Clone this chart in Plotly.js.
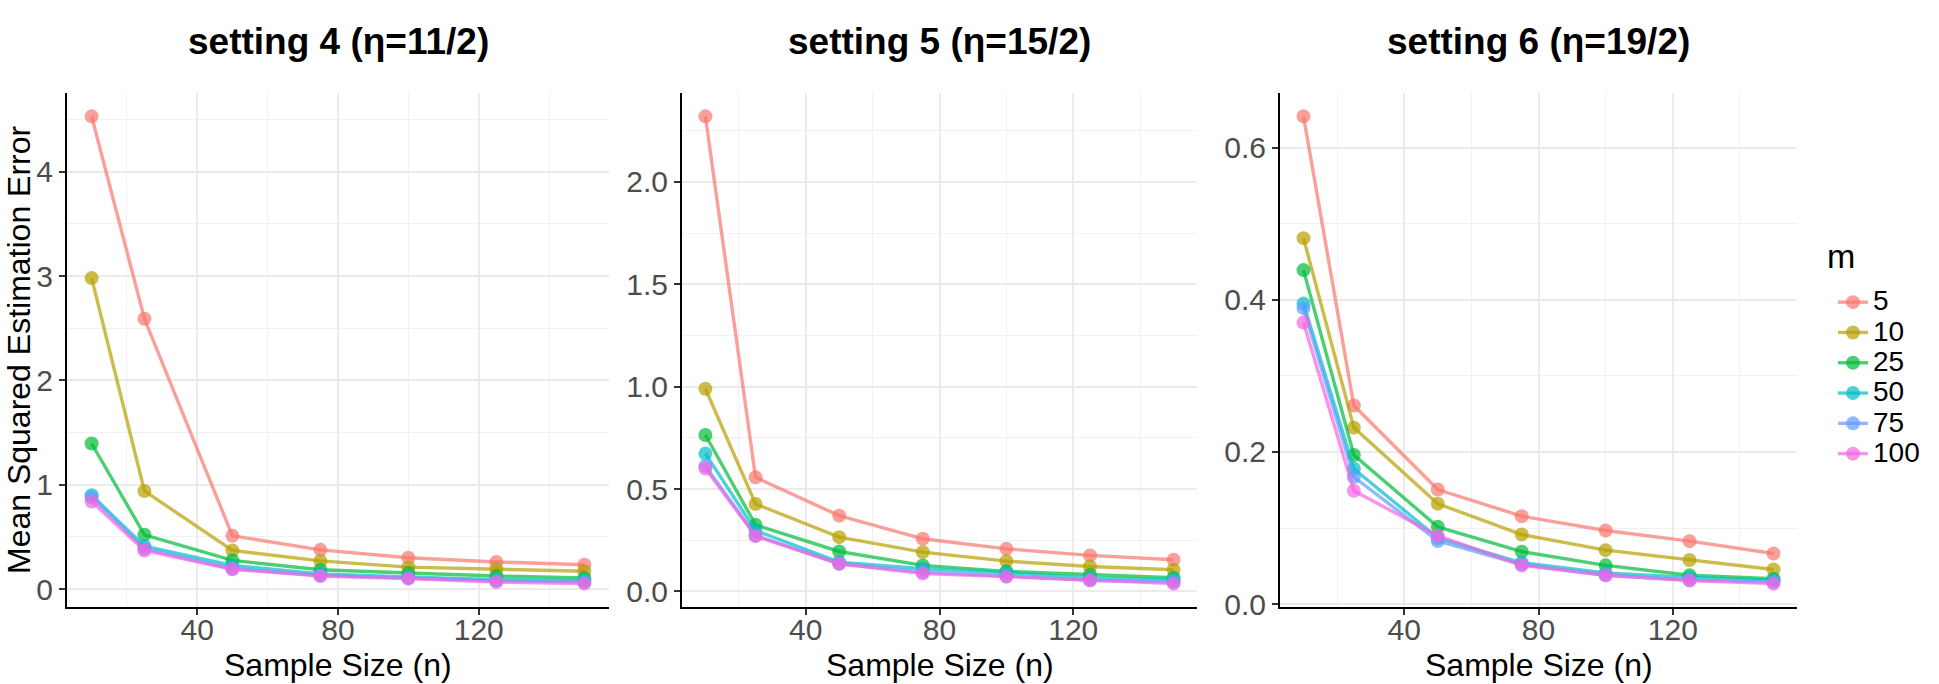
<!DOCTYPE html>
<html>
<head>
<meta charset="utf-8">
<script src="https://cdn.plot.ly/plotly-3.0.1.min.js"></script>
<style>html,body{margin:0;padding:0;background:#fff;}#chart{width:1939px;height:684px;}</style>
</head>
<body>
<div id="chart"></div>
<script>
// ---- data ----
var sampleSizes = [10, 25, 50, 75, 100, 125, 150];
var mLabels = ['5', '10', '25', '50', '75', '100'];
var legendTitle = 'm';
var panelTitles = ['setting 4 (η=11/2)', 'setting 5 (η=15/2)', 'setting 6 (η=19/2)'];
var xTitle = 'Sample Size (n)';
var yTitle = 'Mean Squared Estimation Error';
var xTicks = [40, 80, 120];

// setting 4 (eta = 11/2)
var s4_m5   = [4.53, 2.59, 0.51, 0.376, 0.30, 0.26, 0.233];
var s4_m10  = [2.98, 0.94, 0.37, 0.27, 0.21, 0.19, 0.17];
var s4_m25  = [1.395, 0.52, 0.275, 0.185, 0.154, 0.125, 0.106];
var s4_m50  = [0.90, 0.41, 0.226, 0.144, 0.115, 0.09, 0.083];
var s4_m75  = [0.88, 0.386, 0.195, 0.13, 0.106, 0.08, 0.068];
var s4_m100 = [0.838, 0.37, 0.19, 0.125, 0.10, 0.068, 0.052];

// setting 5 (eta = 15/2)
var s5_m5   = [2.32, 0.557, 0.37, 0.257, 0.208, 0.176, 0.155];
var s5_m10  = [0.99, 0.427, 0.265, 0.192, 0.148, 0.122, 0.106];
var s5_m25  = [0.764, 0.325, 0.195, 0.127, 0.098, 0.082, 0.067];
var s5_m50  = [0.673, 0.297, 0.143, 0.111, 0.091, 0.066, 0.057];
var s5_m75  = [0.612, 0.273, 0.135, 0.095, 0.075, 0.054, 0.046];
var s5_m100 = [0.600, 0.27, 0.135, 0.087, 0.072, 0.054, 0.038];

// setting 6 (eta = 19/2)
var s6_m5   = [0.641, 0.261, 0.1506, 0.1156, 0.0968, 0.0828, 0.0666];
var s6_m10  = [0.481, 0.232, 0.132, 0.0915, 0.071, 0.058, 0.0456];
var s6_m25  = [0.439, 0.196, 0.1016, 0.069, 0.051, 0.038, 0.0334];
var s6_m50  = [0.395, 0.178, 0.087, 0.0544, 0.041, 0.035, 0.0316];
var s6_m75  = [0.389, 0.167, 0.083, 0.052, 0.038, 0.0316, 0.029];
var s6_m100 = [0.370, 0.149, 0.09, 0.051, 0.038, 0.031, 0.027];

var yTicks4 = [0, 1, 2, 3, 4];
var yTicks5 = [0, 0.5, 1.0, 1.5, 2.0];
var yTicks6 = [0, 0.2, 0.4, 0.6];

// ---- styling ----
var colors = [[248,118,109],[183,159,0],[0,186,56],[0,191,196],[97,156,255],[245,100,227]];
function rgba(c, a){ return 'rgba(' + c[0] + ',' + c[1] + ',' + c[2] + ',' + a + ')'; }
var FONT = 'Liberation Sans, Arial, sans-serif';
var TICK_SIZE = 30, AXIS_TITLE_SIZE = 32, TITLE_SIZE = 37, LEGEND_TEXT = 28, LEGEND_TITLE = 34;

var panels = [
  {series: [s4_m5, s4_m10, s4_m25, s4_m50, s4_m75, s4_m100], yt: yTicks4, minor: 0.5, fmt: 'd',   dom: [67, 609]},
  {series: [s5_m5, s5_m10, s5_m25, s5_m50, s5_m75, s5_m100], yt: yTicks5, minor: 0.25, fmt: '.1f', dom: [682, 1197]},
  {series: [s6_m5, s6_m10, s6_m25, s6_m50, s6_m75, s6_m100], yt: yTicks6, minor: 0.1, fmt: '.1f', dom: [1280, 1797]}
];

var W = 1939, H = 684, TOP = 93, BOT = 607;
function px(x){ return x / W; }
function py(y){ return 1 - y / H; }

function expandRange(lo, hi){ var s = hi - lo; return [lo - 0.05 * s, hi + 0.05 * s]; }
var xr = expandRange(Math.min.apply(null, sampleSizes), Math.max.apply(null, sampleSizes));

var traces = [];
var layout = {
  width: W, height: H,
  margin: {l: 0, r: 0, t: 0, b: 0},
  paper_bgcolor: '#ffffff', plot_bgcolor: '#ffffff',
  font: {family: FONT, color: '#000'},
  showlegend: true,
  legend: {
    x: px(1833), xanchor: 'left', y: py(282), yanchor: 'top',
    font: {size: 21, color: '#000', family: FONT},
    bgcolor: 'rgba(0,0,0,0)', borderwidth: 0, itemwidth: 30,
    tracegroupgap: 0
  },
  annotations: [], shapes: []
};

panels.forEach(function(p, i){
  var k = i === 0 ? '' : String(i + 1);
  var all = [].concat.apply([], p.series);
  var yr = expandRange(Math.min.apply(null, all), Math.max.apply(null, all));
  p.series.forEach(function(vals, j){
    traces.push({
      type: 'scatter', mode: 'lines+markers',
      x: sampleSizes, y: vals,
      xaxis: 'x' + k, yaxis: 'y' + k,
      name: '<span style="font-size:' + LEGEND_TEXT + 'px">' + mLabels[j] + '</span>',
      legendgroup: mLabels[j], showlegend: i === 2,
      line: {color: rgba(colors[j], 0.7), width: 3.4},
      marker: {color: rgba(colors[j], 0.7), size: 14, line: {width: 0}},
      hoverinfo: 'x+y'
    });
  });
  var common = {
    showline: true, linecolor: '#000', linewidth: 2,
    ticks: 'outside', ticklen: 6, tickwidth: 2, tickcolor: '#333',
    zeroline: false, showgrid: true, gridcolor: '#EBEBEB', gridwidth: 1.6,
    tickfont: {size: TICK_SIZE, color: '#4D4D4D', family: FONT}, fixedrange: true
  };
  layout['xaxis' + k] = Object.assign({}, common, {
    domain: [px(p.dom[0]), px(p.dom[1])], anchor: 'y' + k,
    range: xr, tickmode: 'array', tickvals: xTicks,
    minor: {tickvals: [20, 60, 100, 140], showgrid: true, gridcolor: '#F1F1F1', gridwidth: 1.2, ticklen: 0},
    ticklabelstandoff: -11
  });
  var minorVals = [];
  for (var v = p.yt[0] + p.minor; v < yr[1]; v += 2 * p.minor) minorVals.push(+v.toFixed(4));
  layout['yaxis' + k] = Object.assign({}, common, {
    domain: [py(BOT), py(TOP)], anchor: 'x' + k,
    range: yr, tickmode: 'array', tickvals: p.yt, tickformat: p.fmt,
    minor: {tickvals: minorVals, showgrid: true, gridcolor: '#F1F1F1', gridwidth: 1.2, ticklen: 0},
    ticklabelstandoff: 0
  });
  var cx = (p.dom[0] + p.dom[1]) / 2;
  layout.annotations.push({
    text: '<b>' + panelTitles[i] + '</b>', xref: 'paper', yref: 'paper',
    x: px(cx), y: py(42), xanchor: 'center', yanchor: 'middle', showarrow: false,
    font: {size: TITLE_SIZE, color: '#000', family: FONT}
  });
  layout.annotations.push({
    text: xTitle, xref: 'paper', yref: 'paper',
    x: px(cx), y: py(665), xanchor: 'center', yanchor: 'middle', showarrow: false,
    font: {size: AXIS_TITLE_SIZE, color: '#000', family: FONT}
  });
});

layout.annotations.push({
  text: yTitle, xref: 'paper', yref: 'paper',
  x: px(19), y: py(350), xanchor: 'center', yanchor: 'middle', textangle: -90, showarrow: false,
  font: {size: AXIS_TITLE_SIZE, color: '#000', family: FONT}
});
layout.annotations.push({
  text: legendTitle, xref: 'paper', yref: 'paper',
  x: px(1825), y: py(256), xanchor: 'left', yanchor: 'middle', showarrow: false,
  font: {size: LEGEND_TITLE, color: '#000', family: FONT}
});

Plotly.newPlot('chart', traces, layout, {displayModeBar: false, responsive: false});
</script>
</body>
</html>
